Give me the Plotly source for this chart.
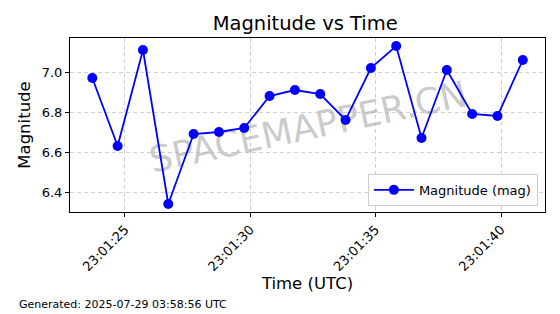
import plotly.graph_objects as go

times = ["2025-07-28 23:01:23.700", "2025-07-28 23:01:24.710", "2025-07-28 23:01:25.720",
         "2025-07-28 23:01:26.730", "2025-07-28 23:01:27.740", "2025-07-28 23:01:28.750",
         "2025-07-28 23:01:29.760", "2025-07-28 23:01:30.770", "2025-07-28 23:01:31.780",
         "2025-07-28 23:01:32.790", "2025-07-28 23:01:33.800", "2025-07-28 23:01:34.810",
         "2025-07-28 23:01:35.820", "2025-07-28 23:01:36.830", "2025-07-28 23:01:37.840",
         "2025-07-28 23:01:38.850", "2025-07-28 23:01:39.860", "2025-07-28 23:01:40.870"]
magnitude = [6.97, 6.63, 7.11, 6.34, 6.69, 6.70, 6.72, 6.88, 6.91, 6.89, 6.76, 7.02,
             7.13, 6.67, 7.01, 6.79, 6.78, 7.06]
tick_vals = ["2025-07-28 23:01:25", "2025-07-28 23:01:30", "2025-07-28 23:01:35", "2025-07-28 23:01:40"]
tick_text = ["23:01:25", "23:01:30", "23:01:35", "23:01:40"]
y_ticks = [6.4, 6.6, 6.8, 7.0]

font = "DejaVu Sans"
fig = go.Figure()
fig.add_trace(go.Scatter(x=times, y=magnitude, mode="lines+markers", name="Magnitude (mag)",
                         line=dict(color="#0000ff", width=1.8),
                         marker=dict(color="#0000ff", size=10)))

axis_common = dict(showline=True, linecolor="black", linewidth=1, mirror=True,
                   ticks="outside", ticklen=4, tickcolor="black",
                   showgrid=True, gridcolor="rgba(176,176,176,0.6)", griddash="4px,3px", gridwidth=1,
                   zeroline=False, tickfont=dict(family=font, size=13, color="black"))

fig.update_layout(
    width=560, height=314,
    margin=dict(l=70, r=15, t=38, b=102),
    paper_bgcolor="white", plot_bgcolor="white",
    font=dict(family=font, color="black"),
    title=dict(text="Magnitude vs Time", x=0.545, xanchor="center", y=0.925, yanchor="middle",
               font=dict(family=font, size=19.5, color="black")),
    xaxis=dict(axis_common, type="date",
               range=["2025-07-28 23:01:22.81", "2025-07-28 23:01:41.755"],
               tickvals=tick_vals, ticktext=tick_text, tickangle=-45,
               title=dict(text="Time (UTC)", font=dict(family=font, size=16.5), standoff=4)),
    yaxis=dict(axis_common, range=[6.30, 7.17], tickvals=y_ticks,
               ticktext=["6.4", "6.6", "6.8", "7.0"],
               title=dict(text="Magnitude", font=dict(family=font, size=16.5), standoff=6)),
    legend=dict(x=0.985, y=0.035, xanchor="right", yanchor="bottom",
                bgcolor="rgba(255,255,255,0.8)", bordercolor="#cccccc", borderwidth=1,
                font=dict(family=font, size=13), itemwidth=40),
    showlegend=True,
)

fig.add_shape(type="rect", xref="paper", yref="paper", x0=0.3, x1=0.7, y0=0.406, y1=0.606,
              line=dict(width=0), fillcolor="rgba(0,0,0,0)", layer="below",
              label=dict(text="SPACEMAPPER.CN", textposition="middle center", textangle=-12,
                         font=dict(family=font, size=36, color="rgba(128,128,128,0.42)")))
fig.add_annotation(text="Generated: 2025-07-29 03:58:56 UTC", x=-53/475, y=0, xref="paper", yref="paper",
                   showarrow=False, xanchor="left", yanchor="middle", yshift=-92,
                   font=dict(family=font, size=11, color="black"))

fig.write_html("out.html")
